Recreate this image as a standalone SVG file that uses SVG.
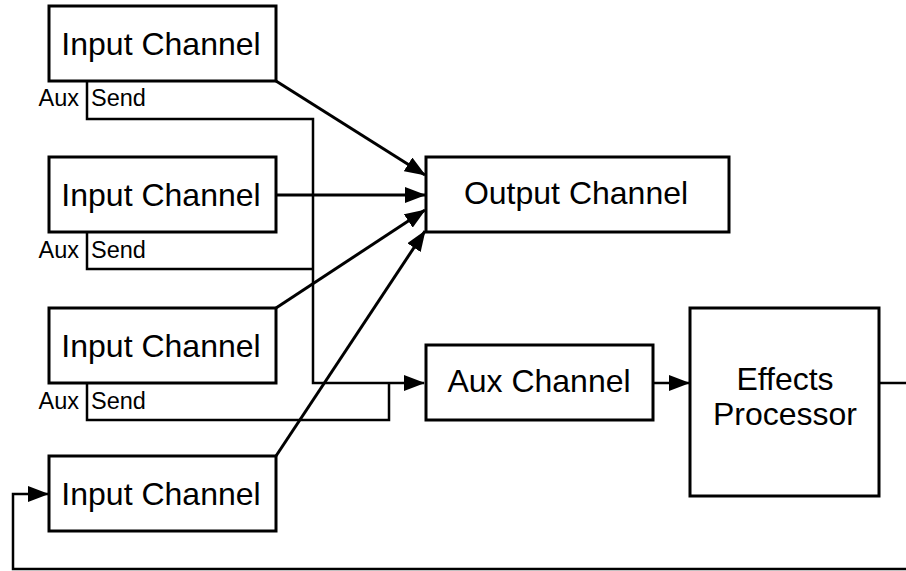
<svg xmlns="http://www.w3.org/2000/svg" width="906" height="571" viewBox="0 0 906 571">
<style>
.box{fill:#fff;stroke:#000;stroke-width:3}
.big{font-family:"Liberation Sans",Arial,sans-serif;font-size:32px;fill:#000;text-anchor:middle}
.small{font-family:"Liberation Sans",Arial,sans-serif;font-size:23.5px;fill:#000}
.wire{fill:none;stroke:#000;stroke-width:3}
.thin{fill:none;stroke:#000;stroke-width:2.5}
</style>
<defs>
<marker id="ah" markerUnits="userSpaceOnUse" markerWidth="21" markerHeight="16" refX="20" refY="8" orient="auto">
<path d="M0,0 L21,8 L0,16 Z" fill="#000"/>
</marker>
</defs>
<g id="connectors">
<path class="thin" d="M87,81 V119 H313 V383 H424" marker-end="url(#ah)"/>
<path class="thin" d="M87,232 V269 H313"/>
<path class="thin" d="M87,383 V420 H389 V383"/>
<path class="wire" d="M276,81 L425,175" marker-end="url(#ah)"/>
<path class="wire" d="M276,195 L425,195" marker-end="url(#ah)"/>
<path class="wire" d="M276,308 L425,210" marker-end="url(#ah)"/>
<path class="wire" d="M276,456 L425,231" marker-end="url(#ah)"/>
<path class="thin" d="M653,383 H689" marker-end="url(#ah)"/>
<path class="thin" d="M879,383 H912 V569 H13 V494 H48" marker-end="url(#ah)"/>
</g>
<g id="input1">
<rect class="box" x="49" y="6" width="227" height="75"/>
<text class="big" x="161" y="55">Input Channel</text>
<text class="small" x="79" y="106" text-anchor="end">Aux</text>
<text class="small" x="91" y="106">Send</text>
</g>
<g id="input2">
<rect class="box" x="49" y="157" width="227" height="75"/>
<text class="big" x="161" y="206">Input Channel</text>
<text class="small" x="79" y="258" text-anchor="end">Aux</text>
<text class="small" x="91" y="258">Send</text>
</g>
<g id="input3">
<rect class="box" x="49" y="308" width="227" height="75"/>
<text class="big" x="161" y="357">Input Channel</text>
<text class="small" x="79" y="409" text-anchor="end">Aux</text>
<text class="small" x="91" y="409">Send</text>
</g>
<g id="input4">
<rect class="box" x="49" y="456" width="227" height="75"/>
<text class="big" x="161" y="505">Input Channel</text>
</g>
<g id="output">
<rect class="box" x="426" y="157" width="303" height="75"/>
<text class="big" x="576" y="204">Output Channel</text>
</g>
<g id="aux">
<rect class="box" x="426" y="345" width="227" height="75"/>
<text class="big" x="539" y="392">Aux Channel</text>
</g>
<g id="effects">
<rect class="box" x="690" y="308" width="189" height="188"/>
<text class="big" x="785" y="390">Effects</text>
<text class="big" x="785" y="425">Processor</text>
</g>
</svg>
